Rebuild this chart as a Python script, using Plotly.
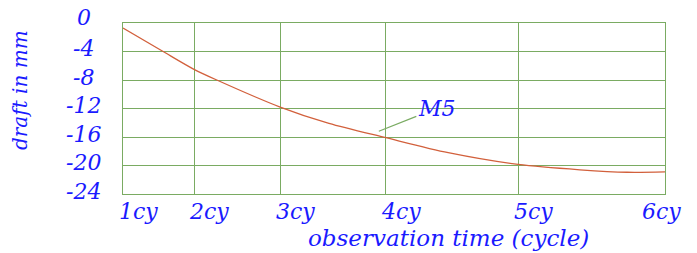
import plotly.graph_objects as go

# Cycle tick positions (relative observation time, % of span) and labels
cycle_pos = [0, 13.1, 29.0, 48.5, 72.9, 100]
cycle_labels = ["1cy", "2cy", "3cy", "4cy", "5cy", "6cy"]

# Settlement curve M5
obs_x = [0, 7.4, 13.1, 17.3, 29.0, 38.0, 48.5, 60.0, 72.9, 84.3, 93.0, 100]
draft_mm = [-0.7, -4.0, -6.5, -8.0, -11.8, -14.1, -16.1, -18.2, -19.85, -20.6, -20.95, -20.9]

y_ticks = [0, -4, -8, -12, -16, -20, -24]

BLUE = "#1a1aff"
GREEN = "#7aab62"
LINE = "#d2603c"
FONT = "DejaVu Serif"

fig = go.Figure()
fig.add_trace(go.Scatter(
    x=obs_x, y=draft_mm, mode="lines",
    line=dict(color=LINE, width=1.3, shape="spline", smoothing=0.8),
    showlegend=False, hoverinfo="skip",
))

annotations = []
# x tick labels
for xp, lab in zip(cycle_pos, cycle_labels):
    annotations.append(dict(
        x=xp, y=0, xref="x", yref="paper", text=f"<i>{lab}</i>",
        showarrow=False, yanchor="top", xanchor="center",
        xshift=(15 if lab != "6cy" else -4), yshift=-3,
        font=dict(family=FONT, size=22, color=BLUE),
    ))
# y tick labels (centered in the left margin, as in the reference)
for v in y_ticks:
    annotations.append(dict(
        x=-0.072, y=v, xref="paper", yref="y", text=f"<i>{v}</i>",
        showarrow=False, xanchor="center", yanchor="middle",
        yshift=(6 if v == 0 else 3),
        font=dict(family=FONT, size=22, color=BLUE),
    ))

annotations.append(dict(
    x=0.6, y=-0.257, xref="paper", yref="paper",
    text="<i>observation time (cycle)</i>", showarrow=False,
    xanchor="center", yanchor="middle",
    font=dict(family=FONT, size=23, color=BLUE),
))
annotations.append(dict(
    x=-0.19, y=0.608, xref="paper", yref="paper",
    text="<i>draft in mm</i>", showarrow=False, textangle=-90,
    xanchor="center", yanchor="middle",
    font=dict(family=FONT, size=20, color=BLUE),
))
annotations.append(dict(
    x=47.2, y=-15.2, xref="x", yref="y", text="<i>M5</i>",
    showarrow=True, arrowhead=0, arrowwidth=1.2, arrowcolor=GREEN,
    ax=58, ay=-23, standoff=0,
    font=dict(family=FONT, size=22, color=BLUE),
))

fig.update_layout(
    width=697, height=253,
    margin=dict(l=123, r=32, t=23, b=59),
    paper_bgcolor="white", plot_bgcolor="white",
    annotations=annotations,
    xaxis=dict(
        range=[0, 100], tickvals=cycle_pos, showticklabels=False,
        showgrid=True, gridcolor=GREEN, gridwidth=1.3,
        showline=True, linecolor=GREEN, linewidth=1.3, mirror=True,
        zeroline=False, ticks="",
    ),
    yaxis=dict(
        range=[-24, 0], tickvals=y_ticks, showticklabels=False,
        showgrid=True, gridcolor=GREEN, gridwidth=1.3,
        showline=True, linecolor=GREEN, linewidth=1.3, mirror=True,
        zeroline=False, ticks="",
    ),
)

fig.write_html("out.html")
